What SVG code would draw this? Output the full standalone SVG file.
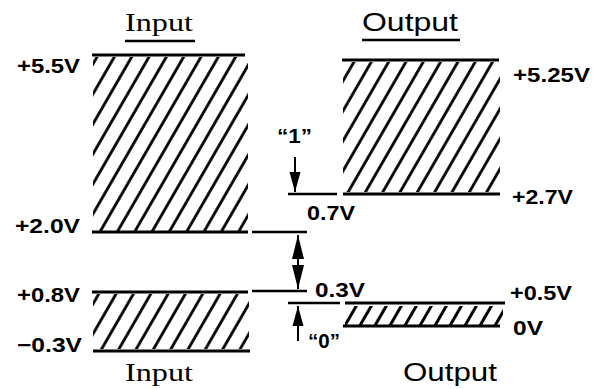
<svg xmlns="http://www.w3.org/2000/svg" width="602" height="389" viewBox="0 0 602 389">
<style>
.edge{stroke:#000;stroke-width:2.8;fill:none}
.ref{stroke:#000;stroke-width:2.4;fill:none}
.lbl{font-family:"Liberation Sans",Arial,sans-serif;font-weight:bold;font-size:21px;fill:#000}
.ser{font-family:"Liberation Serif","Times New Roman",serif;font-size:26px;fill:#000}
.sans{font-family:"Liberation Sans",Arial,sans-serif;font-size:25px;fill:#000}
.arr{stroke:#000;stroke-width:2;fill:none}
</style>
<defs>
<pattern id="hatch" width="15" height="20" patternUnits="userSpaceOnUse" patternTransform="rotate(30)">
<line x1="7.5" y1="-1" x2="7.5" y2="21" stroke="#000" stroke-width="2.8"/>
</pattern>
<pattern id="hatchS" width="13" height="20" patternUnits="userSpaceOnUse" patternTransform="rotate(30)">
<line x1="6.5" y1="-1" x2="6.5" y2="21" stroke="#000" stroke-width="3"/>
</pattern>
<marker id="big" markerUnits="userSpaceOnUse" markerWidth="26" markerHeight="14" viewBox="0 0 26 14" refX="24" refY="7" orient="auto-start-reverse">
<path d="M0,1 L24,7 L0,13 Z" fill="#000"/>
</marker>
<marker id="small" markerUnits="userSpaceOnUse" markerWidth="22" markerHeight="12" viewBox="0 0 22 12" refX="20" refY="6" orient="auto-start-reverse">
<path d="M0,0.5 L20,6 L0,11.5 Z" fill="#000"/>
</marker>
</defs>
<rect width="602" height="389" fill="#fff"/>

<g id="title-input-top">
<text class="ser" x="125" y="31" textLength="68" lengthAdjust="spacingAndGlyphs">Input</text>
<line class="ref" x1="125" y1="41" x2="195" y2="41" stroke-width="2"/>
</g>
<g id="title-output-top">
<text class="sans" x="362" y="31" textLength="96" lengthAdjust="spacingAndGlyphs">Output</text>
<line class="ref" x1="362" y1="40" x2="460" y2="40" stroke-width="2"/>
</g>

<g id="input-high">
<rect x="93" y="57" width="155" height="174" fill="url(#hatch)"/>
<line class="edge" x1="92" y1="55" x2="245" y2="55"/>
<line class="edge" x1="92" y1="232" x2="248" y2="232"/>
<text class="lbl" x="17" y="73" textLength="63" lengthAdjust="spacingAndGlyphs">+5.5V</text>
<text class="lbl" x="15" y="233" textLength="65" lengthAdjust="spacingAndGlyphs">+2.0V</text>
</g>

<g id="input-low">
<rect x="93" y="294" width="156" height="55" fill="url(#hatch)"/>
<line class="edge" x1="92" y1="292" x2="248" y2="292"/>
<line class="edge" x1="93" y1="351" x2="250" y2="351"/>
<text class="lbl" x="17" y="302" textLength="63" lengthAdjust="spacingAndGlyphs">+0.8V</text>
<text class="lbl" x="17" y="352" textLength="65" lengthAdjust="spacingAndGlyphs">−0.3V</text>
</g>

<g id="output-high">
<rect x="343" y="62" width="157" height="130" fill="url(#hatch)"/>
<line class="edge" x1="342" y1="60" x2="499" y2="60"/>
<line class="edge" x1="343" y1="194" x2="500" y2="194"/>
<text class="lbl" x="513" y="82" textLength="77" lengthAdjust="spacingAndGlyphs">+5.25V</text>
<text class="lbl" x="512" y="204" textLength="61" lengthAdjust="spacingAndGlyphs">+2.7V</text>
</g>

<g id="output-low">
<rect x="345" y="306" width="158" height="19" fill="url(#hatchS)"/>
<line class="edge" x1="345" y1="303" x2="505" y2="303"/>
<line class="edge" x1="343" y1="326" x2="500" y2="326"/>
<text class="lbl" x="510" y="300" textLength="62" lengthAdjust="spacingAndGlyphs">+0.5V</text>
<text class="lbl" x="513" y="335" textLength="30" lengthAdjust="spacingAndGlyphs">0V</text>
</g>

<g id="margins">
<line class="ref" x1="288" y1="194" x2="337" y2="194"/>
<line class="ref" x1="252" y1="232" x2="307" y2="232"/>
<line class="ref" x1="252" y1="291" x2="307" y2="291"/>
<line class="ref" x1="288" y1="303" x2="340" y2="303"/>
<text class="lbl" x="277" y="143" textLength="35" lengthAdjust="spacingAndGlyphs">“1”</text>
<text class="lbl" x="307" y="220" textLength="48" lengthAdjust="spacingAndGlyphs">0.7V</text>
<text class="lbl" x="315" y="297" textLength="50" lengthAdjust="spacingAndGlyphs">0.3V</text>
<text class="lbl" x="308" y="348" textLength="32" lengthAdjust="spacingAndGlyphs">“0”</text>
</g>

<g id="connectors">
<line class="arr" x1="295" y1="157" x2="295" y2="192" marker-end="url(#small)"/>
<line class="arr" x1="298" y1="235" x2="298" y2="289" marker-start="url(#big)" marker-end="url(#big)"/>
<line class="arr" x1="298" y1="341" x2="298" y2="306" marker-end="url(#small)"/>
</g>

<g id="title-input-bottom">
<text class="ser" x="125" y="381" textLength="68" lengthAdjust="spacingAndGlyphs">Input</text>
</g>
<g id="title-output-bottom">
<text class="sans" x="403" y="381" textLength="94" lengthAdjust="spacingAndGlyphs">Output</text>
</g>
</svg>
